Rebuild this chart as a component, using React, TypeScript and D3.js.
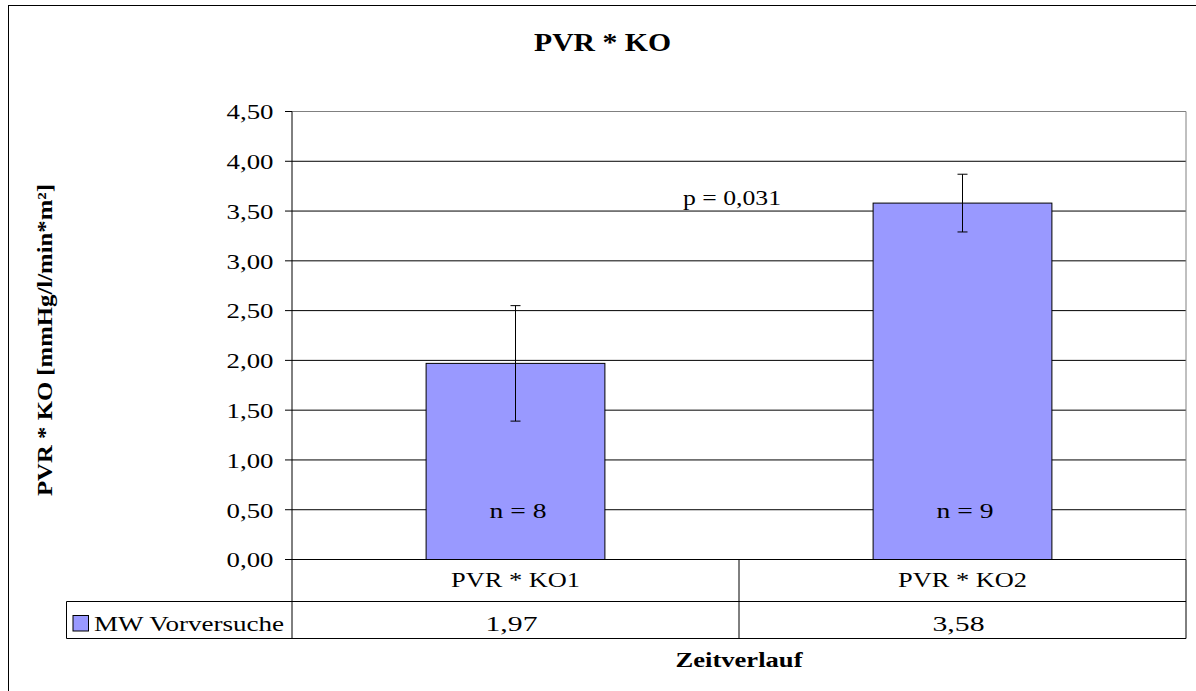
import React from "react";
import * as d3 from "d3";

const categories = ["PVR * KO1", "PVR * KO2"];
const meanValues = [1.97, 3.58];
const errorValues = [0.58, 0.29];
const nLabels = ["n = 8", "n = 9"];
const yTicks = [0, 0.5, 1, 1.5, 2, 2.5, 3, 3.5, 4, 4.5];
const seriesName = "MW Vorversuche";
const title = "PVR * KO";
const yTitle = "PVR * KO [mmHg/l/min*m²]";
const xTitle = "Zeitverlauf";
const pLabel = "p = 0,031";

const FONT = '"Liberation Serif", "Times New Roman", "DejaVu Serif", serif';
const BAR = "#9999FF";

type TP = {
  x: number;
  y: number;
  size: number;
  len: number;
  anchor?: "start" | "middle" | "end";
  bold?: boolean;
  transform?: string;
  children: React.ReactNode;
};
function T({ x, y, size, len, anchor = "middle", bold = false, transform, children }: TP) {
  return (
    <text
      x={x}
      y={y}
      transform={transform}
      textAnchor={anchor}
      fontSize={size}
      fontFamily={FONT}
      fontWeight={bold ? "bold" : "normal"}
      textLength={len}
      lengthAdjust="spacingAndGlyphs"
      fill="#000"
    >
      {children}
    </text>
  );
}

export default function App() {
  const left = 292, right = 1186, top = 111.5, bottom = 559.5;
  const row1 = 601.5, row2 = 638.5, legLeft = 66.5;
  const x = d3.scaleBand<string>().domain(categories).range([left, right]).padding(0);
  const y = d3.scaleLinear().domain([0, 4.5]).range([bottom, top]);
  const fmt = (v: number) => d3.format(".2f")(v).replace(".", ",");
  const bw = x.bandwidth() / 2.5;
  const cx = (c: string) => (x(c) as number) + x.bandwidth() / 2;

  return (
    <svg width={1196} height={691} style={{ position: "fixed", left: 0, top: 0, background: "#fff" }}>
      <rect x={0} y={0} width={1196} height={691} fill="#fff" />
      <rect x={8.5} y={5.5} width={1189} height={700} fill="#fff" stroke="#000" strokeWidth={1} />
      <T x={602.5} y={50.7} size={26} len={137} bold>{title}</T>

      {yTicks.map((t) => (
        <line key={"g" + t} x1={left} x2={right} y1={y(t)} y2={y(t)} stroke="#000" strokeWidth={1} />
      ))}
      <line x1={left} x2={right} y1={top} y2={top} stroke="#808080" />
      <line x1={right} x2={right} y1={top} y2={bottom} stroke="#808080" />

      {categories.map((c, i) => (
        <rect key={c} x={cx(c) - bw / 2} y={y(meanValues[i])} width={bw} height={y(0) - y(meanValues[i])} fill={BAR} stroke="#000" strokeWidth={1} />
      ))}
      {categories.map((c, i) => {
        const xc = cx(c);
        const y1 = y(meanValues[i] + errorValues[i]);
        const y2 = y(meanValues[i] - errorValues[i]);
        return (
          <g key={"e" + c} stroke="#000" strokeWidth={1}>
            <line x1={xc} x2={xc} y1={y1} y2={y2} />
            <line x1={xc - 5} x2={xc + 5} y1={y1} y2={y1} />
            <line x1={xc - 5} x2={xc + 5} y1={y2} y2={y2} />
          </g>
        );
      })}
      {categories.map((c, i) => (
        <T key={"n" + c} x={cx(c) + 2.5} y={517.7} size={22} len={57}>{nLabels[i]}</T>
      ))}
      <T x={732} y={204.5} size={22} len={98}>{pLabel}</T>

      <line x1={left} x2={left} y1={top} y2={row2} stroke="#000" />
      {yTicks.map((t) => (
        <g key={"t" + t}>
          <line x1={285} x2={left} y1={y(t)} y2={y(t)} stroke="#000" />
          <T x={273.5} y={y(t) + 7.8} size={22} len={47} anchor="end">{fmt(t)}</T>
        </g>
      ))}

      <line x1={left} x2={right} y1={bottom} y2={bottom} stroke="#000" />
      <line x1={legLeft} x2={right} y1={row1} y2={row1} stroke="#000" />
      <line x1={legLeft} x2={right} y1={row2} y2={row2} stroke="#000" />
      <line x1={legLeft} x2={legLeft} y1={row1} y2={row2} stroke="#000" />
      {categories.map((c) => (
        <line key={"v" + c} x1={(x(c) as number) + x.bandwidth()} x2={(x(c) as number) + x.bandwidth()} y1={bottom} y2={row2} stroke="#000" />
      ))}
      {categories.map((c, i) => (
        <g key={"c" + c}>
          <T x={cx(c)} y={587.3} size={21} len={129}>{c}</T>
          <T x={cx(c) - 4} y={631} size={22} len={52}>{fmt(meanValues[i])}</T>
        </g>
      ))}
      <rect x={73} y={615.5} width={15.5} height={15.5} fill={BAR} stroke="#000" strokeWidth={1} />
      <T x={94} y={631} size={22} len={190} anchor="start">{seriesName}</T>

      <T x={739} y={666.7} size={22} len={127} bold>{xTitle}</T>
      <T x={0} y={0} transform="translate(52,340) rotate(-90)" size={22} len={312} bold>{yTitle}</T>
    </svg>
  );
}
